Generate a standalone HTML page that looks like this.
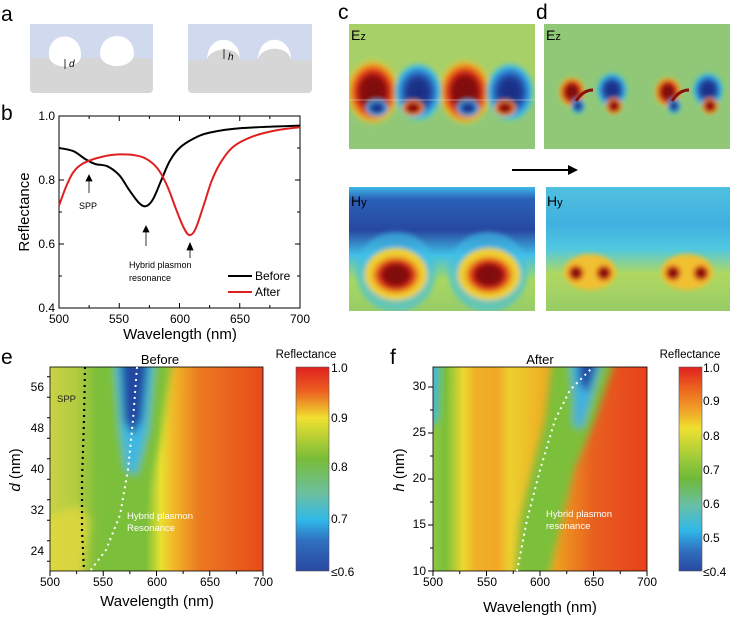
<!DOCTYPE html>
<html><head><meta charset="utf-8"><style>
html,body{margin:0;padding:0;background:#fff}
svg{display:block;font-family:"Liberation Sans",Arial,sans-serif}
</style></head><body>
<svg id="s" width="736" height="619" viewBox="0 0 736 619" xmlns="http://www.w3.org/2000/svg">
<defs>
<filter id="b4" x="-20%" y="-20%" width="140%" height="140%"><feGaussianBlur stdDeviation="4"/></filter>
<filter id="b2" x="-20%" y="-20%" width="140%" height="140%"><feGaussianBlur stdDeviation="2.5"/></filter>
<clipPath id="ce"><rect x="50" y="367" width="213" height="204"/></clipPath>
<clipPath id="cf"><rect x="433" y="367" width="214" height="204"/></clipPath>
<clipPath id="cc1"><rect x="349" y="24" width="186" height="125"/></clipPath>
<clipPath id="cc2"><rect x="544" y="24" width="186" height="125"/></clipPath>
<clipPath id="cc3"><rect x="349" y="187" width="186" height="124"/></clipPath>
<clipPath id="cc4"><rect x="546" y="187" width="184" height="124"/></clipPath>
<linearGradient id="ge" x1="0" x2="1" y1="0" y2="0">
<stop offset="0" stop-color="#c9d245"/><stop offset="0.12" stop-color="#b3cc3f"/><stop offset="0.22" stop-color="#80bf3a"/><stop offset="0.45" stop-color="#7cbf3a"/><stop offset="0.52" stop-color="#e8e030"/><stop offset="0.58" stop-color="#f0b828"/><stop offset="0.7" stop-color="#ec7a20"/><stop offset="1" stop-color="#e84a1a"/></linearGradient>
<linearGradient id="gf" x1="0" x2="1" y1="0" y2="0">
<stop offset="0" stop-color="#8cc840"/><stop offset="0.06" stop-color="#7cbf3a"/><stop offset="0.14" stop-color="#ecd830"/><stop offset="0.2" stop-color="#f0b028"/><stop offset="0.3" stop-color="#f2a826"/><stop offset="0.36" stop-color="#ecd030"/><stop offset="0.55" stop-color="#f0a820"/><stop offset="0.75" stop-color="#e86020"/><stop offset="1" stop-color="#e8401a"/></linearGradient>
<linearGradient id="cbe" x1="0" x2="0" y1="0" y2="1">
<stop offset="0" stop-color="#e02020"/><stop offset="0.12" stop-color="#ec6020"/><stop offset="0.25" stop-color="#f0e030"/><stop offset="0.45" stop-color="#78bc38"/><stop offset="0.62" stop-color="#6cc0a0"/><stop offset="0.75" stop-color="#30b8e8"/><stop offset="0.85" stop-color="#3070c0"/><stop offset="1" stop-color="#2848a0"/></linearGradient>
<linearGradient id="cbf" x1="0" x2="0" y1="0" y2="1">
<stop offset="0" stop-color="#e02020"/><stop offset="0.1" stop-color="#ec6020"/><stop offset="0.22" stop-color="#f0a828"/><stop offset="0.3" stop-color="#f0e030"/><stop offset="0.45" stop-color="#9ccc3a"/><stop offset="0.55" stop-color="#70b83a"/><stop offset="0.68" stop-color="#68c0a8"/><stop offset="0.8" stop-color="#30b8e8"/><stop offset="0.9" stop-color="#3070c0"/><stop offset="1" stop-color="#2848a0"/></linearGradient>
<radialGradient id="rl"><stop offset="0" stop-color="#7a1010"/><stop offset="0.45" stop-color="#8a1010"/><stop offset="0.6" stop-color="#d82818"/><stop offset="0.8" stop-color="#f0a020"/><stop offset="1" stop-color="#e8e040" stop-opacity="0"/></radialGradient>
<radialGradient id="bl"><stop offset="0" stop-color="#1c2a80"/><stop offset="0.45" stop-color="#203890"/><stop offset="0.65" stop-color="#2870c8"/><stop offset="0.85" stop-color="#40c0e8"/><stop offset="1" stop-color="#60c8d0" stop-opacity="0"/></radialGradient>
<linearGradient id="hyc" x1="0" x2="0" y1="0" y2="1"><stop offset="0" stop-color="#40b8e8"/><stop offset="0.1" stop-color="#2a60b8"/><stop offset="0.35" stop-color="#2848a0"/><stop offset="0.55" stop-color="#40c0e8"/><stop offset="0.75" stop-color="#a8d860"/><stop offset="1" stop-color="#98cc68"/></linearGradient>
<linearGradient id="hyd" x1="0" x2="0" y1="0" y2="1"><stop offset="0" stop-color="#50c0e0"/><stop offset="0.3" stop-color="#40b0e0"/><stop offset="0.5" stop-color="#50c8e0"/><stop offset="0.7" stop-color="#b0d860"/><stop offset="1" stop-color="#98cc68"/></linearGradient>
</defs>

<!-- panel a -->
<text x="1" y="21" font-size="21">a</text>
<rect x="30" y="24" width="123" height="38" fill="#d0d9ee"/>
<rect x="30" y="58" width="123" height="35" rx="4" fill="#d6d6d6"/>
<path d="M49,56 C47,30 82,30 81,56 C80,70 50,70 49,56Z" fill="#fff"/>
<path d="M100,54 C100,30 134,30 134,54 C133,70 101,70 100,54Z" fill="#fff"/>
<text x="69" y="67" font-size="10" font-style="italic">d</text>
<line x1="65" y1="59" x2="65" y2="69" stroke="#000" stroke-width="0.8"/>
<rect x="188" y="24" width="124" height="38" fill="#d0d9ee"/>
<rect x="188" y="60" width="124" height="33" rx="4" fill="#d6d6d6"/>
<path d="M207,60 C207,33 240,33 240,60Z" fill="#fff"/>
<path d="M207,60 C208,48 239,44 240,60Z" fill="#d6d6d6"/>
<path d="M258,60 C258,33 291,33 291,60Z" fill="#fff"/>
<path d="M258,60 C260,46 288,44 291,60Z" fill="#d6d6d6"/>
<text x="228" y="60" font-size="10" font-style="italic">h</text>
<line x1="224" y1="49" x2="224" y2="59" stroke="#000" stroke-width="0.8"/>

<!-- panel b -->
<text x="1" y="120" font-size="21">b</text>
<rect x="59" y="116" width="241" height="192" fill="none" stroke="#000" stroke-width="1"/>
<g id="bticks" stroke="#000" stroke-width="1"></g>
<g font-size="12" text-anchor="middle">
<text x="59" y="323">500</text><text x="119" y="323">550</text><text x="180" y="323">600</text><text x="240" y="323">650</text><text x="300" y="323">700</text></g>
<g font-size="12" text-anchor="end">
<text x="55" y="120">1.0</text><text x="55" y="184">0.8</text><text x="55" y="248">0.6</text><text x="55" y="312">0.4</text></g>
<text x="180" y="339" font-size="15" text-anchor="middle">Wavelength (nm)</text>
<text transform="translate(29,212) rotate(-90)" font-size="15" text-anchor="middle">Reflectance</text>
<path id="cblack" fill="none" stroke="#000" stroke-width="2"/>
<path id="cred" fill="none" stroke="#e02020" stroke-width="2"/>
<line x1="228" y1="276" x2="252" y2="276" stroke="#000" stroke-width="2"/><text x="255" y="280" font-size="12">Before</text>
<line x1="228" y1="292" x2="252" y2="292" stroke="#e02020" stroke-width="2"/><text x="255" y="296" font-size="12">After</text>
<g stroke="#000" stroke-width="0.8" fill="#000">
<line x1="89" y1="193" x2="89" y2="180"/><path d="M86,181 L89,175 L92,181Z"/>
<line x1="146" y1="246" x2="146" y2="231"/><path d="M143,232 L146,226 L149,232Z"/>
<line x1="190" y1="258" x2="190" y2="249"/><path d="M187,250 L190,243 L193,250Z"/></g>
<text x="79" y="209" font-size="9">SPP</text>
<text x="129" y="268" font-size="9">Hybrid plasmon</text><text x="129" y="281" font-size="9">resonance</text>

<!-- panels c,d -->
<text x="338" y="19" font-size="21">c</text>
<text x="536" y="19" font-size="21">d</text>
<g clip-path="url(#cc1)">
<rect x="349" y="24" width="186" height="125" fill="#90c878"/>
<rect x="349" y="24" width="186" height="76" fill="#a8d068" />
<g filter="url(#b2)">
<ellipse cx="373" cy="92" rx="28" ry="34" fill="url(#rl)"/>
<ellipse cx="465" cy="92" rx="28" ry="34" fill="url(#rl)"/>
<ellipse cx="418" cy="92" rx="25" ry="30" fill="url(#bl)"/>
<ellipse cx="510" cy="92" rx="25" ry="30" fill="url(#bl)"/>
<ellipse cx="377" cy="108" rx="12" ry="9" fill="url(#bl)"/>
<ellipse cx="468" cy="108" rx="12" ry="9" fill="url(#bl)"/>
<ellipse cx="413" cy="108" rx="12" ry="9" fill="url(#rl)"/>
<ellipse cx="505" cy="108" rx="12" ry="9" fill="url(#rl)"/>
</g>
<line x1="349" y1="100" x2="535" y2="100" stroke="#ddd" stroke-width="0.5"/>
</g>
<text x="351" y="40" font-size="14">E<tspan font-size="11">z</tspan></text>
<g clip-path="url(#cc2)">
<rect x="544" y="24" width="186" height="125" fill="#90c878"/>
<g filter="url(#b2)">
<ellipse cx="572" cy="92" rx="14" ry="16" fill="url(#rl)"/>
<ellipse cx="612" cy="90" rx="16" ry="18" fill="url(#bl)"/>
<ellipse cx="668" cy="92" rx="14" ry="16" fill="url(#rl)"/>
<ellipse cx="708" cy="90" rx="16" ry="18" fill="url(#bl)"/>
<ellipse cx="578" cy="106" rx="7" ry="8" fill="url(#bl)"/>
<ellipse cx="614" cy="106" rx="9" ry="9" fill="url(#rl)"/>
<ellipse cx="674" cy="106" rx="7" ry="8" fill="url(#bl)"/>
<ellipse cx="710" cy="106" rx="9" ry="9" fill="url(#rl)"/>
</g>
<path d="M576,101 Q583,90 593,90" stroke="#8a1010" stroke-width="3" fill="none"/>
<path d="M672,101 Q679,90 689,90" stroke="#8a1010" stroke-width="3" fill="none"/>
</g>
<text x="546" y="40" font-size="14">E<tspan font-size="11">z</tspan></text>
<line x1="512" y1="170" x2="570" y2="170" stroke="#000" stroke-width="2"/>
<path d="M568,165 L578,170 L568,175Z" fill="#000"/>
<g clip-path="url(#cc3)">
<rect x="349" y="187" width="186" height="124" fill="url(#hyc)"/>
<g filter="url(#b2)">
<ellipse cx="396" cy="272" rx="40" ry="40" fill="#40c0e8" opacity="0.6"/>
<ellipse cx="488" cy="272" rx="40" ry="40" fill="#40c0e8" opacity="0.6"/>
<ellipse cx="396" cy="274" rx="31" ry="26" fill="#f0d030"/>
<ellipse cx="489" cy="274" rx="31" ry="26" fill="#f0d030"/>
<ellipse cx="396" cy="275" rx="28" ry="22" fill="url(#rl)"/>
<ellipse cx="489" cy="275" rx="28" ry="22" fill="url(#rl)"/>
</g>
</g>
<text x="351" y="206" font-size="14">H<tspan font-size="11">y</tspan></text>
<g clip-path="url(#cc4)">
<rect x="546" y="187" width="184" height="124" fill="url(#hyd)"/>
<g filter="url(#b2)">
<ellipse cx="590" cy="272" rx="26" ry="18" fill="#f0c030"/>
<ellipse cx="687" cy="272" rx="26" ry="18" fill="#f0c030"/>
<ellipse cx="576" cy="273" rx="10" ry="10" fill="url(#rl)"/>
<ellipse cx="604" cy="273" rx="10" ry="10" fill="url(#rl)"/>
<ellipse cx="673" cy="273" rx="10" ry="10" fill="url(#rl)"/>
<ellipse cx="701" cy="273" rx="10" ry="10" fill="url(#rl)"/>
</g>
</g>
<text x="547" y="206" font-size="14">H<tspan font-size="11">y</tspan></text>

<!-- panel e -->
<text x="1" y="364" font-size="21">e</text>
<text x="160" y="364" font-size="13" text-anchor="middle">Before</text>
<g clip-path="url(#ce)">
<rect x="50" y="367" width="213" height="204" fill="url(#ge)"/>
<g filter="url(#b4)">
<path d="M40,520 L78,505 L90,520 L82,580 L40,580Z" fill="#e0d840" opacity="0.8"/>
<path d="M95,360 L172,360 L160,440 L140,520 L125,580 L100,580 L102,520 L98,440Z" fill="#7cbf3a"/>
<path d="M115,360 L154,360 L148,430 L136,475 L126,470 L120,430Z" fill="#40b8e0"/>
<path d="M121,360 L148,360 L142,420 L133,435 L124,420Z" fill="#2448a0"/>
</g>
</g>
<rect x="50" y="367" width="213" height="204" fill="none" stroke="#000" stroke-width="0.8"/>
<path d="M85,367 L84,420 L82,480 L82,530 L84,571" stroke="#000" stroke-width="2.2" fill="none" stroke-dasharray="2 4"/>
<path d="M137,367 L133,420 L128,470 L120,515 L106,550 L90,571" stroke="#fff" stroke-width="2" fill="none" stroke-dasharray="2 4"/>
<text x="57" y="402" font-size="9.5" fill="#222">SPP</text>
<text x="127" y="519" font-size="9.5" fill="#fff">Hybrid plasmon</text>
<text x="127" y="531" font-size="9.5" fill="#fff">Resonance</text>
<g id="eticks" stroke="#000" stroke-width="1"></g>
<g font-size="12" text-anchor="middle">
<text x="50" y="586">500</text><text x="103" y="586">550</text><text x="157" y="586">600</text><text x="210" y="586">650</text><text x="263" y="586">700</text></g>
<g font-size="12" text-anchor="end">
<text x="44" y="391">56</text><text x="44" y="432">48</text><text x="44" y="473">40</text><text x="44" y="514">32</text><text x="44" y="555">24</text></g>
<text x="157" y="606" font-size="15" text-anchor="middle">Wavelength (nm)</text>
<text transform="translate(20,470) rotate(-90)" font-size="15" text-anchor="middle"><tspan font-style="italic">d</tspan> (nm)</text>
<rect x="296" y="367" width="33" height="204" fill="url(#cbe)" stroke="#555" stroke-width="0.6"/>
<text x="306" y="358" font-size="11.5" text-anchor="middle">Reflectance</text>
<g font-size="12"><text x="331" y="372">1.0</text><text x="331" y="422">0.9</text><text x="331" y="471">0.8</text><text x="331" y="523">0.7</text><text x="331" y="576">≤0.6</text></g>

<!-- panel f -->
<text x="390" y="364" font-size="21">f</text>
<text x="540" y="364" font-size="13" text-anchor="middle">After</text>
<g clip-path="url(#cf)">
<rect x="433" y="367" width="214" height="204" fill="url(#gf)"/>
<g filter="url(#b4)">
<path d="M425,360 L440,360 L438,420 L425,430Z" fill="#40b8e0"/>
<path d="M515,580 L548,580 L562,520 L574,470 L595,420 L615,360 L552,360 L545,420 L532,470 L520,520Z" fill="#7cbf3a"/>
<path d="M570,360 L602,360 L592,395 L582,428 L574,426 L574,400Z" fill="#40b0e0"/>
<path d="M578,360 L598,360 L588,392 L580,385Z" fill="#2448a0"/>
</g>
</g>
<rect x="433" y="367" width="214" height="204" fill="none" stroke="#000" stroke-width="0.8"/>
<path d="M517,571 L527,520 L540,470 L555,420 L570,390 L593,367" stroke="#fff" stroke-width="2" fill="none" stroke-dasharray="2 4"/>
<text x="546" y="517" font-size="9.5" fill="#fff">Hybrid plasmon</text>
<text x="546" y="529" font-size="9.5" fill="#fff">resonance</text>
<g id="fticks" stroke="#000" stroke-width="1"></g>
<g font-size="12" text-anchor="middle">
<text x="433" y="586">500</text><text x="487" y="586">550</text><text x="540" y="586">600</text><text x="594" y="586">650</text><text x="647" y="586">700</text></g>
<g font-size="12" text-anchor="end">
<text x="426" y="390">30</text><text x="426" y="436">25</text><text x="426" y="482">20</text><text x="426" y="528">15</text><text x="426" y="575">10</text></g>
<text x="540" y="612" font-size="15" text-anchor="middle">Wavelength (nm)</text>
<text transform="translate(404,470) rotate(-90)" font-size="15" text-anchor="middle"><tspan font-style="italic">h</tspan> (nm)</text>
<rect x="679" y="367" width="23" height="204" fill="url(#cbf)" stroke="#555" stroke-width="0.6"/>
<text x="690" y="358" font-size="11.5" text-anchor="middle">Reflectance</text>
<g font-size="12"><text x="703" y="372">1.0</text><text x="703" y="405">0.9</text><text x="703" y="440">0.8</text><text x="703" y="474">0.7</text><text x="703" y="508">0.6</text><text x="703" y="542">0.5</text><text x="703" y="576">≤0.4</text></g>
</svg>
<script>
function X(l){return 59+(l-500)*241/200}
function Y(r){return 116+(1-r)/0.6*192}
function path(pts){
 var P=pts.map(function(p){return [X(p[0]),Y(p[1])]});var d="M"+P[0][0].toFixed(1)+","+P[0][1].toFixed(1);
 for(var i=0;i<P.length-1;i++){var p0=P[Math.max(0,i-1)],p1=P[i],p2=P[i+1],p3=P[Math.min(P.length-1,i+2)];
 var c1=[p1[0]+(p2[0]-p0[0])/6,p1[1]+(p2[1]-p0[1])/6],c2=[p2[0]-(p3[0]-p1[0])/6,p2[1]-(p3[1]-p1[1])/6];
 d+=" C"+c1.map(v=>v.toFixed(1))+" "+c2.map(v=>v.toFixed(1))+" "+p2.map(v=>v.toFixed(1));}
 return d;}
document.getElementById("cblack").setAttribute("d",path([[500,.9],[512,.89],[522,.865],[530,.85],[540,.843],[550,.815],[558,.77],[566,.73],[572,.718],[578,.74],[585,.8],[592,.86],[600,.9],[612,.93],[625,.948],[650,.962],[700,.97]]));
document.getElementById("cred").setAttribute("d",path([[500,.72],[506,.78],[512,.825],[520,.852],[535,.872],[550,.88],[565,.876],[575,.86],[583,.83],[590,.78],[597,.71],[603,.655],[608,.628],[613,.645],[620,.72],[627,.8],[635,.86],[645,.905],[660,.935],[680,.955],[700,.965]]));
var ns="http://www.w3.org/2000/svg";
function ln(g,x1,y1,x2,y2){var l=document.createElementNS(ns,"line");l.setAttribute("x1",x1);l.setAttribute("y1",y1);l.setAttribute("x2",x2);l.setAttribute("y2",y2);document.getElementById(g).appendChild(l);}
for(var i=0;i<=8;i++){var x=59+i*241/8,len=i%2?3:5;ln("bticks",x,308,x,308-len);ln("bticks",x,116,x,116+len);}
for(var i=0;i<=6;i++){var y=116+i*32,len=i%2?3:5;ln("bticks",59,y,59+len,y);ln("bticks",300,y,300-len,y);}
for(var i=0;i<=8;i++){var x=50+i*213/8;ln("eticks",x,571,x,571+(i%2?3:5));var x2=433+i*214/8;ln("fticks",x2,571,x2,571+(i%2?3:5));}
for(var v=22;v<=58;v+=4){var y=387+(56-v)*41/8;ln("eticks",50,y,50-(v%8==0?5:3),y);}
for(var v=10;v<=32;v+=2.5){var y=571-(v-10)*9.2;ln("fticks",433,y,433-(v%5==0?5:3),y);}
</script>
</body></html>
